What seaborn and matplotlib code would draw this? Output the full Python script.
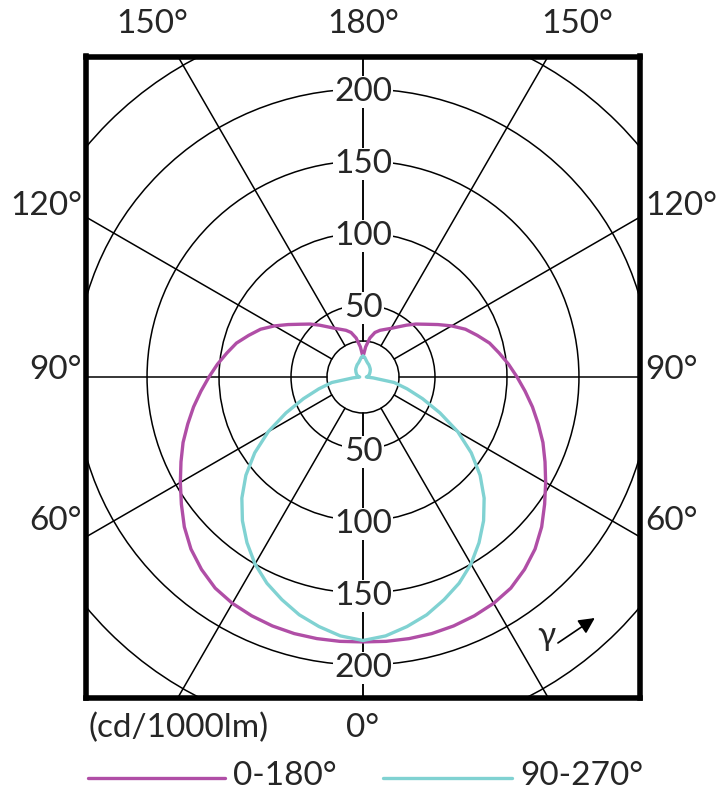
import numpy as np
import pandas as pd
import matplotlib
matplotlib.use('Agg')
import matplotlib.pyplot as plt
from matplotlib.lines import Line2D
import seaborn as sns

# gamma angle in degrees (0 = straight down, 180 = straight up), cd/1000lm
gamma = list(range(0, 181, 5))
plane_0_180 = [184, 184.3, 184.5, 184.5, 184, 183, 181.5, 179, 174.5, 169,
               162, 154, 146.5, 139.5, 133, 126, 119.5, 113, 107, 101.5,
               96, 91, 84.5, 78.5, 71, 63.5, 57, 52, 47, 42.5,
               39, 36.5, 34.5, 32, 27.5, 21, 14]
plane_90_270 = [183, 180.5, 176, 171, 164.6, 158, 150, 140.5, 130.3, 119,
                106.2, 91.8, 76, 59, 44, 31.7, 22, 7, 2.3, 3,
                3.5, 4, 4.5, 5, 5.4, 6, 6.5, 7.2, 7.7, 8.2,
                8.8, 9.5, 10, 10.8, 12, 13.7, 14.5]
plane_names = ['0-180°', '90-270°']

grid_radii = [25, 50, 100, 150, 200, 250]
ray_angles = [0, 30, 60, 90, 120, 150, 180]
radial_ticks = [50, 100, 150, 200]

sns.set_style('white')
plt.rcParams['font.family'] = ['Lato', 'DejaVu Sans']

MAG = '#b04ea6'
CYA = '#80d2d2'
FS = 24

# mirror each plane to both sides of the vertical axis
frames = []
for name, vals in zip(plane_names, [plane_0_180, plane_90_270]):
    g = np.radians(np.array(gamma[::-1] + gamma[1:], dtype=float))
    r = np.array(vals[::-1] + vals[1:], dtype=float)
    side = np.array([-1] * len(gamma) + [1] * (len(gamma) - 1))
    frames.append(pd.DataFrame({'x': side * r * np.sin(g),
                                'y': -r * np.cos(g),
                                'plane': name}))
df = pd.concat(frames, ignore_index=True)

fig = plt.figure(figsize=(7.27, 8), dpi=100)
ax = fig.add_axes([86 / 727, 1 - 697.5 / 800, 554 / 727, 641 / 800])


def px(x, y):
    return x / 727, 1 - y / 800


# grid circles and rays
for rad in grid_radii:
    ax.add_patch(plt.Circle((0, 0), rad, fill=False, lw=1.1,
                            color='black', zorder=1))
for a in ray_angles:
    t = np.radians(a)
    for s in (-1, 1):
        ax.plot([s * 25 * np.sin(t), s * 400 * np.sin(t)],
                [-25 * np.cos(t), -400 * np.cos(t)],
                color='black', lw=1.1, zorder=1)

sns.lineplot(data=df, x='x', y='y', hue='plane', palette=[MAG, CYA],
             sort=False, estimator=None, legend=False, lw=2.4, ax=ax,
             zorder=3, solid_joinstyle='round')

for v in radial_ticks:
    for sgn in (1, -1):
        ax.text(0, sgn * v, str(v), ha='center', va='center_baseline',
                fontsize=FS, zorder=5,
                bbox=dict(facecolor='white', edgecolor='none', pad=1))

ax.annotate('', xy=(161, -167.4), xytext=(135.4, -184.7),
            arrowprops=dict(arrowstyle='-|>', color='black', lw=1.2,
                            mutation_scale=24, shrinkA=0, shrinkB=0))

ax.set_xlim(-192.4, 192.4)
ax.set_ylim(-222.6, 222.6)
ax.set_xticks([])
ax.set_yticks([])
ax.set_xlabel('')
ax.set_ylabel('')
for sp in ax.spines.values():
    sp.set_linewidth(4)
    sp.set_color('black')
    sp.set_zorder(6)

# angle labels around the box
fig.text(*px(188, 24), '150°', ha='right', va='center', fontsize=FS)
fig.text(*px(363, 24), '180°', ha='center', va='center', fontsize=FS)
fig.text(*px(541, 24), '150°', ha='left', va='center', fontsize=FS)
for label, y in [('120°', 206), ('90°', 370), ('60°', 521)]:
    fig.text(*px(82, y), label, ha='right', va='center', fontsize=FS)
    fig.text(*px(645, y), label, ha='left', va='center', fontsize=FS)
fig.text(*px(88, 728), '(cd/1000lm)', ha='left', va='center', fontsize=FS)
fig.text(*px(363, 728), '0°', ha='center', va='center', fontsize=FS)
fig.text(*px(546, 636), 'γ', ha='center', va='center', fontsize=FS)

# legend
fig.add_artist(Line2D([88 / 727, 225 / 727], [1 - 778 / 800] * 2,
                      color=MAG, lw=2.4))
fig.text(*px(233, 776), plane_names[0], ha='left', va='center', fontsize=FS)
fig.add_artist(Line2D([383 / 727, 512 / 727], [1 - 778 / 800] * 2,
                      color=CYA, lw=2.4))
fig.text(*px(520, 776), plane_names[1], ha='left', va='center', fontsize=FS)

fig.savefig('out.png', dpi=100)
